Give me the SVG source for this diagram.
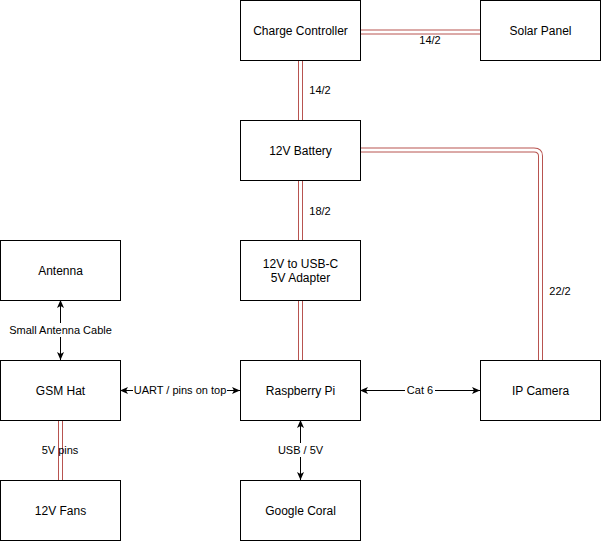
<svg xmlns="http://www.w3.org/2000/svg" width="601" height="542" viewBox="0 0 601 542">
  <style>
    .box { fill: #ffffff; stroke: #000000; stroke-width: 1; }
    .nt { font-family: "Liberation Sans", Arial, sans-serif; font-size: 12px; fill: #000; text-anchor: middle; }
    .lt { font-family: "Liberation Sans", Arial, sans-serif; font-size: 11px; fill: #000; text-anchor: middle; }
    .cab-o { fill: none; stroke: #b85450; stroke-width: 5; }
    .cab-i { fill: none; stroke: #ffffff; stroke-width: 3; }
    .wire { fill: none; stroke: #000; stroke-width: 1; marker-start: url(#arr); marker-end: url(#arr); }
    .lbg { fill: #ffffff; }
  </style>
  <defs>
    <marker id="arr" viewBox="0 0 8 8" refX="8" refY="4" markerWidth="8" markerHeight="8" markerUnits="userSpaceOnUse" orient="auto-start-reverse">
      <path d="M0,0.5 L8,4 L0,7.5 L2,4 Z" fill="#000"/>
    </marker>
  </defs>
  <rect width="601" height="542" fill="#ffffff"/>

  <g id="connectors">
    <g id="cc-solar">
      <path class="cab-o" d="M360,32 L480,32"/>
      <path class="cab-i" d="M360,32 L480,32"/>
      <text class="lt" x="430" y="44">14/2</text>
    </g>
    <g id="cc-battery">
      <path class="cab-o" d="M300.5,60 L300.5,120"/>
      <path class="cab-i" d="M300.5,60 L300.5,120"/>
      <text class="lt" x="320" y="94">14/2</text>
    </g>
    <g id="battery-camera">
      <path class="cab-o" d="M360,150 L534,150 Q540.5,150 540.5,156 L540.5,360"/>
      <path class="cab-i" d="M360,150 L534,150 Q540.5,150 540.5,156 L540.5,360"/>
      <text class="lt" x="560" y="295">22/2</text>
    </g>
    <g id="battery-adapter">
      <path class="cab-o" d="M300.5,180 L300.5,240"/>
      <path class="cab-i" d="M300.5,180 L300.5,240"/>
      <text class="lt" x="320" y="215">18/2</text>
    </g>
    <g id="adapter-pi">
      <path class="cab-o" d="M300.5,300 L300.5,360"/>
      <path class="cab-i" d="M300.5,300 L300.5,360"/>
    </g>
    <g id="gsm-fans">
      <path class="cab-o" d="M60.5,420 L60.5,480"/>
      <path class="cab-i" d="M60.5,420 L60.5,480"/>
      <text class="lt" x="60" y="454">5V pins</text>
    </g>
    <g id="antenna-gsm">
      <path class="wire" d="M60.5,300 L60.5,360"/>
      <rect class="lbg" x="8" y="323" width="105" height="14"/>
      <text class="lt" x="60.5" y="334">Small Antenna Cable</text>
    </g>
    <g id="gsm-pi">
      <path class="wire" d="M120,390.5 L240,390.5"/>
      <rect class="lbg" x="133" y="383" width="94" height="14"/>
      <text class="lt" x="180" y="394">UART / pins on top</text>
    </g>
    <g id="pi-camera">
      <path class="wire" d="M360,390.5 L480,390.5"/>
      <rect class="lbg" x="405" y="383" width="30" height="14"/>
      <text class="lt" x="420" y="394">Cat 6</text>
    </g>
    <g id="pi-coral">
      <path class="wire" d="M300.5,420 L300.5,480"/>
      <rect class="lbg" x="276" y="443" width="49" height="14"/>
      <text class="lt" x="300.5" y="454">USB / 5V</text>
    </g>
  </g>

  <g id="charge-controller">
    <rect class="box" x="240.5" y="0.5" width="120" height="60"/>
    <text class="nt" x="300.5" y="35">Charge Controller</text>
  </g>
  <g id="solar-panel">
    <rect class="box" x="480.5" y="0.5" width="120" height="60"/>
    <text class="nt" x="540.5" y="35">Solar Panel</text>
  </g>
  <g id="battery">
    <rect class="box" x="240.5" y="120.5" width="120" height="60"/>
    <text class="nt" x="300.5" y="155">12V Battery</text>
  </g>
  <g id="adapter">
    <rect class="box" x="240.5" y="240.5" width="120" height="60"/>
    <text class="nt" x="300.5" y="268">12V to USB-C</text>
    <text class="nt" x="300.5" y="282">5V Adapter</text>
  </g>
  <g id="raspberry-pi">
    <rect class="box" x="240.5" y="360.5" width="120" height="60"/>
    <text class="nt" x="300.5" y="395">Raspberry Pi</text>
  </g>
  <g id="google-coral">
    <rect class="box" x="240.5" y="480.5" width="120" height="60"/>
    <text class="nt" x="300.5" y="515">Google Coral</text>
  </g>
  <g id="antenna">
    <rect class="box" x="0.5" y="240.5" width="120" height="60"/>
    <text class="nt" x="60.5" y="275">Antenna</text>
  </g>
  <g id="gsm-hat">
    <rect class="box" x="0.5" y="360.5" width="120" height="60"/>
    <text class="nt" x="60.5" y="395">GSM Hat</text>
  </g>
  <g id="fans">
    <rect class="box" x="0.5" y="480.5" width="120" height="60"/>
    <text class="nt" x="60.5" y="515">12V Fans</text>
  </g>
  <g id="ip-camera">
    <rect class="box" x="480.5" y="360.5" width="120" height="60"/>
    <text class="nt" x="540.5" y="395">IP Camera</text>
  </g>
</svg>
